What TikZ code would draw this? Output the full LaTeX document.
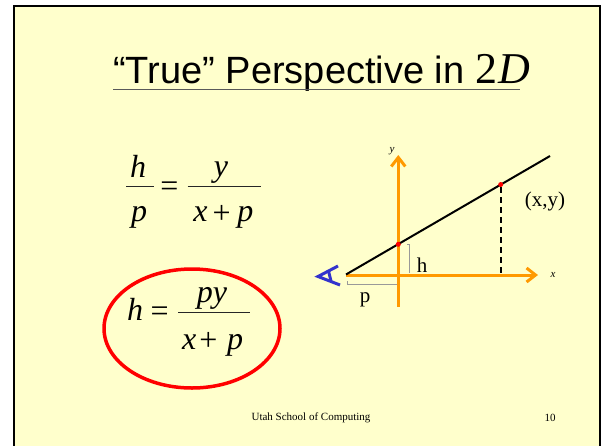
\documentclass[tikz,border=0pt]{standalone}
\usepackage{fontspec}
\setmainfont{Liberation Serif}
\newfontfamily\arialfont{Liberation Sans}
\usetikzlibrary{arrows.meta,shapes.geometric}
\definecolor{slidebg}{HTML}{FFFFCC}
\definecolor{axisorange}{HTML}{FF9900}
\definecolor{eyeblue}{HTML}{3333CC}
\tikzset{
  axisline/.style={draw=axisorange, line width=3pt, -{Straight Barb[length=9pt,width=14pt,line width=3pt]}},
  thinmark/.style={draw=gray!80, line width=0.6pt},
  reddot/.style={circle, fill=red, inner sep=0pt, minimum size=5pt},
  lbl/.style={inner sep=0pt, font=\fontsize{21}{22}\selectfont},
  axlbl/.style={inner sep=0pt, font=\fontsize{11}{12}\selectfont\itshape},
  eqv/.style={inner sep=0pt, anchor=base, font=\fontsize{32}{34}\selectfont\itshape},
  eqop/.style={inner sep=0pt, font=\fontsize{32}{34}\selectfont},
  fracbar/.style={draw=black!85, line width=1.2pt},
  foot/.style={inner sep=0pt, font=\fontsize{11}{12}\selectfont}
}
\begin{document}
\begin{tikzpicture}[x=1pt,y=-1pt]
\useasboundingbox (0,0) rectangle (602,445);
\fill[white] (0,0) rectangle (602,445);
\filldraw[fill=slidebg, draw=black, line width=2.5pt] (14,6) rectangle (600,452);

% title
\node[inner sep=0pt, anchor=base west, font=\arialfont\fontsize{38}{40}\selectfont] (title) at (113,83.5)
  {“True” Perspective in {\rmfamily\fontsize{44}{46}\selectfont 2\kern1pt\textit{D}}};
\coordinate (ulA) at (113,89.5);
\coordinate (ulB) at (520,89.5);
\draw[gray!70!black, line width=1.4pt] (ulA) -- (ulB);

% equation 1
\node[eqv] (e1h) at (138,177.3) {h};
\coordinate (e1b1a) at (126,186.7);
\coordinate (e1b1b) at (154.3,186.7);
\draw[fracbar] (e1b1a) -- (e1b1b);
\node[eqv] (e1p) at (139,221.7) {p};
\node[eqop] (e1eq) at (169.5,189.5) {=};
\coordinate (e1b2a) at (187.7,186.7);
\coordinate (e1b2b) at (260.7,186.7);
\draw[fracbar] (e1b2a) -- (e1b2b);
\node[eqv] (e1y) at (221,176) {y};
\node[eqv] (e1x) at (200.5,221.7) {x};
\node[eqop] (e1plus) at (221.7,214) {+};
\node[eqv] (e1p2) at (245.3,221.7) {p};

% equation 2
\node[eqv] (e2h) at (135,320) {h};
\node[eqop] (e2eq) at (159.7,313.8) {=};
\coordinate (e2ba) at (178.3,312.3);
\coordinate (e2bb) at (250,312.3);
\draw[fracbar] (e2ba) -- (e2bb);
\node[eqv] (e2py) at (212,302) {py};
\node[eqv] (e2x) at (189.2,349) {x};
\node[eqop] (e2plus) at (208.3,341.3) {+};
\node[eqv] (e2p) at (235,349) {p};
\node[draw=red, line width=3.5pt, ellipse, minimum width=176pt, minimum height=119pt, inner sep=0pt] (ring) at (192,328.5) {};

% diagram
\coordinate (ybot) at (398.3,306.7);
\coordinate (ytop) at (398.3,155);
\coordinate (xleft) at (346,275);
\coordinate (xright) at (538,275);
\draw[axisline] (ybot) -- (ytop);
\draw[axisline] (xleft) -- (xright);
\coordinate (origin) at (346,274.5);
\coordinate (lineend) at (550,156);
\draw[black, line width=2pt] (origin) -- (lineend);
\node[reddot] (dotA) at (398.3,244.3) {};
\node[reddot] (dotB) at (500.7,184.5) {};
\coordinate (dashfoot) at (500.7,273);
\draw[black, line width=1.8pt, dash pattern=on 6pt off 4pt] (dotB) -- (dashfoot);

% brackets
\coordinate (hb1) at (407,244.5);
\coordinate (hb2) at (409.5,244.5);
\coordinate (hb3) at (409.5,273);
\draw[thinmark] (hb1) -- (hb2) -- (hb3);
\coordinate (pb1) at (347,281);
\coordinate (pb2) at (347,284.3);
\coordinate (pb3) at (397,284.3);
\draw[thinmark] (pb1) -- (pb2) -- (pb3);

% labels
\node[lbl] (xy) at (545,201) {(x,y)};
\node[lbl] (hl) at (422,265) {h};
\node[lbl] (pl) at (365,300) {p};
\node[axlbl] (ylab) at (392,151) {y};
\node[axlbl] (xlab) at (553,275) {x};

% eye
\coordinate (eyeA) at (318,276.5);
\coordinate (eyeU) at (338,266);
\coordinate (eyeL) at (340,285);
\coordinate (eyeC1) at (328.5,271);
\coordinate (eyeC2) at (331,281);
\draw[eyeblue, line width=3pt, line join=miter] (eyeU) -- (eyeA) -- (eyeL);
\draw[eyeblue, line width=3pt] (eyeC1) -- (eyeC2);

% footer
\node[foot] (footer) at (311,418) {Utah School of Computing};
\node[foot] (pagenum) at (550,418) {10};
\end{tikzpicture}
\end{document}
